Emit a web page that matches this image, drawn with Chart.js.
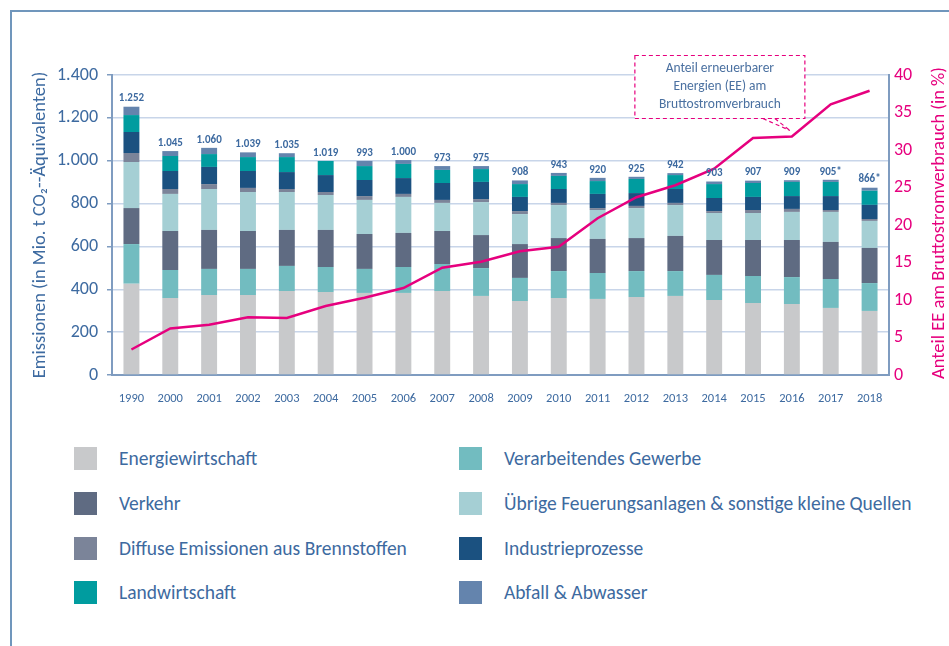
<!DOCTYPE html>
<html>
<head>
<meta charset="utf-8">
<script src="https://cdn.jsdelivr.net/npm/chart.js@4"></script>
<style>
  body { margin: 0; background: #fff; font-family: Carlito, Lato, sans-serif; }
  #wrap { position: relative; width: 949px; height: 646px; overflow: hidden; }
  #frame { position: absolute; left: 10px; top: 10px; width: 960px; height: 660px;
           border-left: 2px solid #7096bc; border-top: 2px solid #7096bc; }
  canvas { position: absolute; left: 0; top: 0; }
  .lg { position: absolute; height: 23px; line-height: 23px; font-size: 19.5px; color: #3d6aa0; white-space: nowrap; }
  .sw { position: absolute; width: 23px; height: 23px; }
</style>
</head>
<body>
<div id="wrap">
  <div id="frame"></div>
  <canvas id="canvas" width="949" height="420"></canvas>
  <div id="legend"></div>
</div>
<script>
// Jahre
const years = ['1990','2000','2001','2002','2003','2004','2005','2006','2007','2008','2009',
               '2010','2011','2012','2013','2014','2015','2016','2017','2018'];

// Emissionen nach Sektor (Mio. t CO2-Äq.)
const energie   = [426,359,373,373,392,387,383,383,392,369,345,359,355,364,369,350,336,331,313,299];
const verarb    = [185,131,122,122,117,117,112,121,126,130,108,126,121,121,116,117,126,126,135,130];
const verkehr   = [168,182,182,177,168,173,163,159,154,154,158,154,159,154,164,163,168,173,173,164];
const uebrige   = [215,173,191,182,177,163,159,168,131,154,140,154,135,140,144,126,126,131,140,126];
const diffuse   = [42,23,23,19,14,14,18,14,14,14,14,10,9,10,10,9,14,14,9,9];
const industrie = [98,84,80,79,79,79,75,74,79,80,66,65,66,60,65,61,61,60,65,66];
const landw     = [79,70,60,65,70,66,65,66,61,60,60,61,60,66,65,65,65,66,66,66];
const abfall    = [39,23,29,22,18,0,24,18,18,14,17,14,15,10,9,12,11,8,10,14];

// Summen-Beschriftung über den Balken
const totalLabels = ['1.252','1.045','1.060','1.039','1.035','1.019','993','1.000','973','975',
                     '908','943','920','925','942','903','907','909','905*','866*'];

// Anteil EE am Bruttostromverbrauch (%)
const eeShare = [3.4,6.2,6.7,7.7,7.6,9.2,10.3,11.6,14.3,15.1,16.5,17.1,20.9,23.7,25.3,27.5,31.6,31.8,36.1,37.9];

const sectors = [
  { label: 'Energiewirtschaft', data: energie, color: '#c8c9cb' },
  { label: 'Verarbeitendes Gewerbe', data: verarb, color: '#72bcc0' },
  { label: 'Verkehr', data: verkehr, color: '#5f6b82' },
  { label: 'Übrige Feuerungsanlagen & sonstige kleine Quellen', data: uebrige, color: '#a5cfd4' },
  { label: 'Diffuse Emissionen aus Brennstoffen', data: diffuse, color: '#7b8499' },
  { label: 'Industrieprozesse', data: industrie, color: '#1b5180' },
  { label: 'Landwirtschaft', data: landw, color: '#009c9f' },
  { label: 'Abfall & Abwasser', data: abfall, color: '#6484ad' }
];

const FONT = 'Carlito, Lato, sans-serif';
const BLUE = '#3d6aa0';
const PINK = '#e6007e';
const AXIS = '#7f9cc0';

// Beschriftungen, rechter Achsentitel und Sprechblase
const extras = {
  id: 'extras',
  afterDatasetsDraw(chart) {
    const ctx = chart.ctx;
    const top = chart.getDatasetMeta(sectors.length - 1);
    ctx.save();
    ctx.fillStyle = BLUE;
    ctx.font = 'bold 11px ' + FONT;
    ctx.textAlign = 'center';
    ctx.textBaseline = 'middle';
    top.data.forEach((bar, i) => {
      ctx.fillText(totalLabels[i], bar.x, bar.y - 8);
    });
    ctx.restore();
  },
  afterDraw(chart) {
    const ctx = chart.ctx;
    const area = chart.chartArea;
    // rechter Achsentitel (von unten nach oben)
    ctx.save();
    ctx.translate(939, (area.top + area.bottom) / 2 - 2);
    ctx.rotate(-Math.PI / 2);
    ctx.fillStyle = PINK;
    ctx.font = '18.5px ' + FONT;
    ctx.textAlign = 'center';
    ctx.textBaseline = 'middle';
    ctx.fillText('Anteil EE am Bruttostromverbrauch (in %)', 0, 0);
    ctx.restore();

    // Sprechblase an den Punkt 2016
    const meta = chart.getDatasetMeta(sectors.length);
    const pt = meta.data[17];
    const tipX = pt.x - 2, tipY = pt.y - 6;
    const bx = tipX - 155, bw = 170, bh = 63, by = tipY - 12 - bh;
    ctx.save();
    ctx.fillStyle = '#fff';
    ctx.fillRect(bx, by, bw, bh);
    ctx.strokeStyle = PINK;
    ctx.lineWidth = 1.2;
    ctx.setLineDash([4, 3]);
    ctx.strokeRect(bx, by, bw, bh);
    ctx.beginPath();
    ctx.moveTo(tipX - 27, by + bh);
    ctx.lineTo(tipX, tipY);
    ctx.moveTo(tipX - 15, by + bh);
    ctx.lineTo(tipX, tipY);
    ctx.stroke();
    ctx.setLineDash([]);
    ctx.fillStyle = '#4a70a0';
    ctx.font = '13.5px ' + FONT;
    ctx.textAlign = 'center';
    ctx.textBaseline = 'middle';
    const cx = bx + bw / 2;
    ctx.fillText('Anteil erneuerbarer', cx, by + 13);
    ctx.fillText('Energien (EE) am', cx, by + 31);
    ctx.fillText('Bruttostromverbrauch', cx, by + 49);
    ctx.restore();
  }
};

const datasets = sectors.map(s => ({
  type: 'bar',
  label: s.label,
  data: s.data,
  backgroundColor: s.color,
  borderWidth: 0,
  yAxisID: 'y',
  order: 1,
  barPercentage: 0.41,
  categoryPercentage: 1
}));

datasets.push({
  type: 'line',
  label: 'Anteil EE',
  data: eeShare,
  borderColor: PINK,
  borderWidth: 2.5,
  pointRadius: 0,
  tension: 0,
  yAxisID: 'y1',
  order: 0
});

new Chart(document.getElementById('canvas').getContext('2d'), {
  data: { labels: years, datasets: datasets },
  options: {
    responsive: false,
    animation: false,
    layout: { padding: { left: 20, right: 0, top: 75, bottom: 15 } },
    plugins: { legend: { display: false }, tooltip: { enabled: false } },
    scales: {
      x: {
        stacked: true,
        grid: { display: false },
        border: { color: AXIS, width: 2 },
        ticks: { color: BLUE, font: { family: FONT, size: 12.5 }, padding: 8, maxRotation: 0 },
        afterFit: s => { s.height = 30; }
      },
      y: {
        stacked: true,
        position: 'left',
        min: 0, max: 1400,
        ticks: {
          stepSize: 200, color: BLUE, padding: 9,
          font: { family: FONT, size: 18 },
          callback: v => v.toLocaleString('de-DE')
        },
        grid: { color: '#c8d5e9', lineWidth: 1.5, tickLength: 5, tickColor: AXIS },
        border: { color: AXIS, width: 2 },
        title: {
          display: true,
          text: 'Emissionen (in Mio. t CO₂--Äquivalenten)',
          color: BLUE,
          font: { family: FONT, size: 18.5 },
          padding: { top: 9, bottom: 0 }
        },
        afterFit: s => { s.width = 92; }
      },
      y1: {
        position: 'right',
        min: 0, max: 40,
        ticks: { stepSize: 5, color: PINK, padding: 5, font: { family: FONT, size: 18 } },
        grid: { display: false, drawTicks: false },
        border: { color: AXIS, width: 2 },
        afterFit: s => { s.width = 60; }
      }
    }
  },
  plugins: [extras]
});

// Legende in zwei Spalten
const legend = document.getElementById('legend');
const rowsTop = [447, 492, 537, 581];
sectors.forEach((s, n) => {
  const col = n % 2, row = Math.floor(n / 2);
  const sw = document.createElement('div');
  sw.className = 'sw';
  sw.style.left = (col ? 459 : 74) + 'px';
  sw.style.top = rowsTop[row] + 'px';
  sw.style.background = s.color;
  legend.appendChild(sw);
  const t = document.createElement('div');
  t.className = 'lg';
  t.style.left = (col ? 504 : 119) + 'px';
  t.style.top = rowsTop[row] + 'px';
  t.textContent = s.label;
  legend.appendChild(t);
});
</script>
</body>
</html>
